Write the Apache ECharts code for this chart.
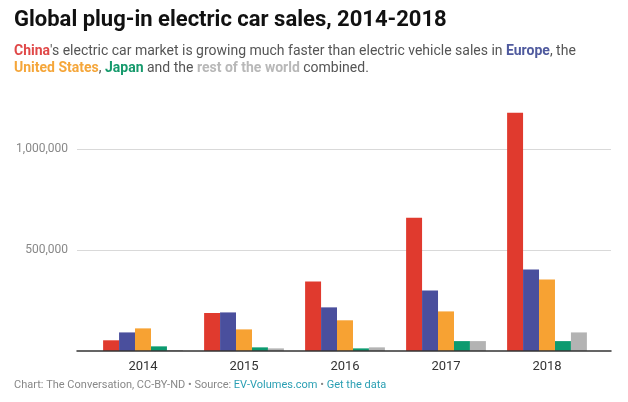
<!DOCTYPE html>
<html><head><meta charset="utf-8">
<script src="https://cdn.jsdelivr.net/npm/echarts@6/dist/echarts.min.js"></script>
<style>html,body{margin:0;padding:0;background:#fff}#c{width:628px;height:402px}</style>
</head><body><div id="c"></div>
<script>
const categories = ['2014','2015','2016','2017','2018'];
const china  = [53000, 188000, 344000, 660000, 1180000];
const europe = [92000, 191000, 216000, 300000, 404000];
const usa    = [112000, 107000, 152000, 196000, 354000];
const japan  = [23000, 18000, 13000, 49000, 49000];
const rest   = [4000, 13000, 18000, 49000, 92000];
const yTicks = [0, 500000, 1000000];

const colors = {china:'#e03a2e', europe:'#4a4f9d', usa:'#f7a233', japan:'#0c9a6f', rest:'#b3b3b3'};
const font = 'Roboto, "Noto Sans", sans-serif';

const chart = echarts.init(document.getElementById('c'), null, {renderer:'canvas'});
const yMax = 1250000;
function bar(name, data, color){
  return {name, type:'bar', data, xAxisIndex:1, yAxisIndex:1, itemStyle:{color}, barGap:'0%', barCategoryGap:'21%', animation:false};
}
chart.setOption({
  animation:false,
  textStyle:{fontFamily:font},
  title:[
    {text:'Global plug-in electric car sales, 2014-2018', left:9, top:4,
     textStyle:{fontFamily:font, fontSize:22, fontWeight:'bold', color:'#111'}},
    {text:"{c|China}'s electric car market is growing much faster than electric vehicle sales in {e|Europe}, the\n{u|United States}, {j|Japan} and the {r|rest of the world} combined.",
     left:9, top:38,
     textStyle:{fontFamily:font, fontSize:14, fontWeight:'normal', color:'#555', lineHeight:17,
       rich:{
         c:{color:'#e04848', fontWeight:'bold', fontSize:14, fontFamily:font},
         e:{color:'#4f5a9e', fontWeight:'bold', fontSize:14, fontFamily:font},
         u:{color:'#f5a63a', fontWeight:'bold', fontSize:14, fontFamily:font},
         j:{color:'#169a6c', fontWeight:'bold', fontSize:14, fontFamily:font},
         r:{color:'#b8b8b8', fontWeight:'bold', fontSize:14, fontFamily:font}
       }}},
    {text:'Chart: The Conversation, CC-BY-ND • Source: {l|EV-Volumes.com} • {l|Get the data}',
     left:9, top:375,
     textStyle:{fontFamily:font, fontSize:11, fontWeight:'normal', color:'#888',
       rich:{l:{color:'#2a9fb3', fontSize:11, fontFamily:font}}}}
  ],
  grid:[
    {left:77, right:17, top:98.5, bottom:51, containLabel:false},
    {left:92.5, right:30.5, top:98.5, bottom:51, containLabel:false}
  ],
  xAxis:[
    {type:'category', gridIndex:0, data:categories, axisLine:{lineStyle:{color:'#333', width:1.5}},
     axisTick:{show:false}, axisLabel:{show:false}, z:5},
    {type:'category', gridIndex:1, data:categories, axisLine:{show:false}, axisTick:{show:false},
     axisLabel:{color:'#333', fontSize:13, fontFamily:font, margin:9}}
  ],
  yAxis:[
    {type:'value', gridIndex:0, min:0, max:yMax, interval:500000,
     axisLine:{show:false}, axisTick:{show:false},
     splitLine:{lineStyle:{color:['rgba(0,0,0,0)','#d9d9d9','#d9d9d9','rgba(0,0,0,0)'], width:1}},
     axisLabel:{color:'#888', fontSize:12, fontFamily:font, margin:9,
       formatter:v => (yTicks.includes(v) && v !== 0) ? v.toLocaleString('en-US') : ''}},
    {type:'value', gridIndex:1, min:0, max:yMax, show:false, splitLine:{show:false}}
  ],
  series:[
    bar('China', china, colors.china),
    bar('Europe', europe, colors.europe),
    bar('United States', usa, colors.usa),
    bar('Japan', japan, colors.japan),
    bar('Rest of the world', rest, colors.rest)
  ]
});
</script></body></html>
